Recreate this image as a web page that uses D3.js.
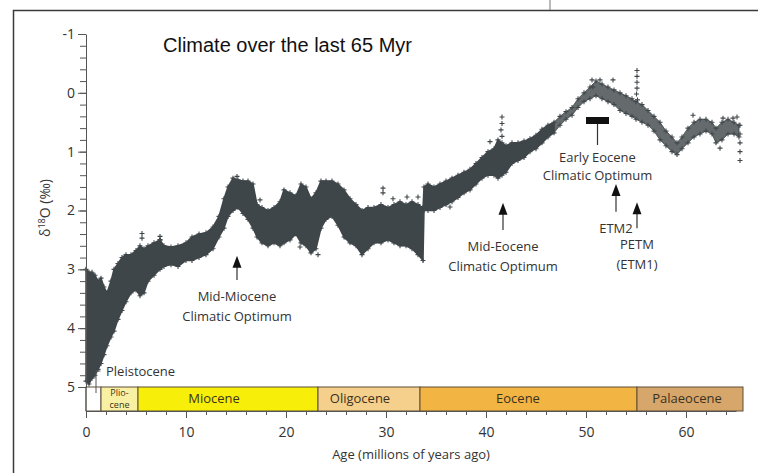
<!DOCTYPE html>
<html>
<head>
<meta charset="utf-8">
<script src="https://cdn.jsdelivr.net/npm/d3@7"></script>
<style>
  body { margin: 0; background: #fff; }
  text { fill: #333; }
</style>
</head>
<body>
<div id="chart"></div>
<script>
// envelope of the d18O cloud: age (Myr), lightest (top) and heaviest (bottom) values
const ages  = [0.0, 0.3, 0.6, 0.9, 1.2, 1.5, 1.8, 2.1, 2.5, 2.8, 3.2, 3.6, 4.0, 4.5, 5.0, 5.4, 5.8, 6.2, 6.8, 7.4,
  7.8, 8.5, 9.2, 10.0, 10.6, 11.3, 12.0, 12.7, 13.3, 13.8, 14.2, 14.7, 15.2, 15.7, 16.2, 16.7, 17.1, 17.6, 18.2, 18.8,
  19.4, 19.8, 20.4, 21.0, 21.5, 22.0, 22.5, 23.0, 23.5, 24.0, 24.6, 25.2, 25.8, 26.4, 27.0, 27.6, 28.2, 28.8, 29.5, 30.2,
  30.8, 31.4, 32.0, 32.6, 33.2, 33.7, 33.8, 34.2, 34.8, 35.4, 36.0, 36.6, 37.2, 37.8, 38.4, 39.0, 39.6, 40.2, 40.8, 41.2,
  41.6, 42.0, 42.6, 43.2, 43.8, 44.4, 45.0, 45.6, 46.2, 46.8, 47.4, 48.0, 48.6, 49.2, 49.8, 50.4, 51.0, 51.6, 52.2, 52.8,
  53.4, 54.0, 54.6, 55.0, 55.6, 56.2, 56.8, 57.4, 58.0, 58.6, 59.1, 59.6, 60.2, 60.8, 61.4, 62.0, 62.6, 63.0, 63.6, 64.2,
  64.8, 65.3];
const upper = [3.0, 3.05, 3.05, 3.1, 3.2, 3.15, 3.3, 3.4, 3.2, 3.0, 2.9, 2.8, 2.75, 2.75, 2.68, 2.6, 2.65, 2.6, 2.55, 2.5,
  2.6, 2.62, 2.6, 2.55, 2.45, 2.4, 2.38, 2.28, 2.1, 1.8, 1.6, 1.45, 1.48, 1.5, 1.5, 1.55, 1.9, 1.95, 2.0, 1.95,
  1.85, 1.65, 1.7, 1.75, 1.55, 1.6, 1.8, 1.7, 1.5, 1.5, 1.5, 1.55, 1.65, 1.8, 1.9, 2.0, 1.95, 1.95, 1.9, 1.95,
  1.9, 1.85, 1.9, 1.85, 1.9, 1.95, 1.6, 1.55, 1.6, 1.55, 1.5, 1.45, 1.4, 1.35, 1.3, 1.2, 1.1, 1.0, 0.95, 0.8,
  0.85, 0.9, 0.85, 0.85, 0.82, 0.78, 0.72, 0.62, 0.55, 0.5, 0.4, 0.32, 0.25, 0.1, 0.0, -0.1, -0.2, -0.15, -0.1, -0.05,
  0.0, 0.05, 0.1, 0.15, 0.2, 0.3, 0.4, 0.5, 0.65, 0.75, 0.85, 0.75, 0.6, 0.5, 0.45, 0.45, 0.5, 0.6, 0.5, 0.45,
  0.5, 0.55];
const lower = [4.9, 4.95, 4.85, 4.8, 4.7, 4.6, 4.45, 4.3, 4.15, 4.05, 3.85, 3.7, 3.55, 3.4, 3.35, 3.45, 3.4, 3.2, 3.1, 3.0,
  2.95, 2.92, 2.95, 2.85, 2.85, 2.8, 2.75, 2.65, 2.45, 2.3, 2.1, 2.0, 1.95, 2.05, 2.15, 2.3, 2.45, 2.55, 2.6, 2.55,
  2.6, 2.55, 2.5, 2.4, 2.55, 2.6, 2.72, 2.65, 2.3, 2.15, 2.1, 2.25, 2.45, 2.55, 2.6, 2.75, 2.65, 2.55, 2.55, 2.5,
  2.55, 2.6, 2.6, 2.65, 2.75, 2.85, 2.0, 2.0, 2.0, 1.95, 1.9, 1.85, 1.78, 1.7, 1.65, 1.55, 1.45, 1.4, 1.4, 1.45,
  1.4, 1.35, 1.2, 1.15, 1.1, 1.0, 0.95, 0.85, 0.75, 0.68, 0.55, 0.45, 0.38, 0.25, 0.15, 0.1, 0.05, 0.1, 0.15, 0.2,
  0.3, 0.35, 0.4, 0.45, 0.5, 0.55, 0.65, 0.8, 0.9, 1.0, 1.05, 0.95, 0.85, 0.75, 0.7, 0.65, 0.7, 0.85, 0.8, 0.7,
  0.7, 0.75];

// isolated points
const outAge  = [5.6, 5.6, 7.4, 7.4, 15.1, 17.4, 21.4, 23.2, 25.9, 29.7, 29.7, 30.7, 32.1, 33.2, 36.4, 40.4,
  41.6, 41.6, 41.5, 41.6, 50.6, 50.7, 51.4, 52.7, 55.1, 55.1, 55.1, 55.1, 55.05, 55.15, 60.7, 63.4, 63.7, 64.7,
  65.1, 65.4, 65.4, 65.4, 65.4, 65.4];
const outD18O = [2.39, 2.47, 2.44, 2.5, 1.42, 1.82, 2.62, 2.75, 2.45, 1.62, 1.7, 1.8, 1.77, 1.77, 1.94, 0.83,
  0.41, 0.52, 0.63, 0.74, -0.22, -0.1, -0.22, -0.22, -0.38, -0.28, -0.18, -0.08, 0.02, 0.12, 0.38, 0.94, 0.43, 0.43,
  0.41, 0.55, 0.7, 0.85, 1.0, 1.15];

// geological epochs (Myr); '|' splits a label over two lines
const epochNames = ['', 'Plio-|cene', 'Miocene', 'Oligocene', 'Eocene', 'Palaeocene'];
const epochStart = [0, 1.5, 5.2, 23.2, 33.4, 55.1];
const epochEnd   = [1.5, 5.2, 23.2, 33.4, 55.1, 65.7];
const epochLabelAt = [0.75, 3.35, 12.8, 27.4, 43.2, 60.1];
const epochColors = ['#ffffff', '#f8f1a4', '#f7ef0a', '#f5cf8c', '#f2b443', '#d6a66b'];

const yTicks = [-1, 0, 1, 2, 3, 4, 5];
const xTicks = [0, 10, 20, 30, 40, 50, 60];

// climate events: label lines, age and d18O of arrow tip / tail
const events = [
  {lines: ['Mid-Miocene', 'Climatic Optimum'], age: 15.1, tip: 2.77, tail: 3.18},
  {lines: ['Mid-Eocene', 'Climatic Optimum'], age: 41.7, tip: 1.87, tail: 2.33},
  {lines: ['ETM2'], age: 53.0, tip: 1.55, tail: 2.02},
  {lines: ['PETM', '(ETM1)'], age: 55.1, tip: 1.86, tail: 2.3},
];
const eeco = {lines: ['Early Eocene', 'Climatic Optimum'], from: 50.0, to: 52.3};
const sparseFrom = 46.8;   // record gets patchy from here on

const W = 758, H = 473;
const svg = d3.select('#chart').append('svg')
  .attr('width', W)
  .attr('height', H);

const x = d3.scaleLinear().domain([0, 65]).range([86, 736]);
const y = d3.scaleLinear().domain([-1, 5]).range([34, 387]);
const axisY = 411;
const dataColor = '#3f4649';
const labelFont = '"Open Sans", "Noto Sans", sans-serif';

// outer frame of the screenshot
svg.append('path')
  .attr('d', `M13.5,${H} V10.5 H${W}`)
  .attr('fill', 'none')
  .attr('stroke', '#3a3a3a')
  .attr('stroke-width', 1.5);
svg.append('line')
  .attr('x1', 550).attr('x2', 550).attr('y1', 0).attr('y2', 10)
  .attr('stroke', '#777').attr('stroke-width', 1);

// title
svg.append('text')
  .attr('x', 163).attr('y', 52)
  .style('font-family', '"Liberation Sans", Arial, sans-serif')
  .style('font-size', '20px')
  .style('fill', '#111')
  .text('Climate over the last 65 Myr');

// data cloud
const rows = ages.map((a, i) => ({age: a, hi: upper[i], lo: lower[i]}));
const area = d3.area()
  .x(d => x(d.age))
  .y0(d => y(d.lo))
  .y1(d => y(d.hi));
svg.append('path')
  .datum(rows.filter(d => d.age <= sparseFrom))
  .attr('d', area)
  .attr('fill', dataColor)
  .attr('stroke', dataColor)
  .attr('stroke-width', 1.5);
svg.append('path')
  .datum(rows.filter(d => d.age >= sparseFrom))
  .attr('d', area)
  .attr('fill', dataColor)
  .attr('fill-opacity', 0.8)
  .attr('stroke', dataColor)
  .attr('stroke-opacity', 0.85)
  .attr('stroke-width', 1);

const plus = 'M-2.5,0h5M0,-2.5v5';
const edgePts = rows.flatMap(d => [[d.age, d.hi], [d.age, d.lo]]);
const loosePts = outAge.map((a, i) => [a, outD18O[i]]);
svg.append('g').selectAll('path')
  .data(edgePts.concat(loosePts))
  .enter().append('path')
    .attr('transform', d => `translate(${x(d[0])},${y(d[1])})`)
    .attr('d', plus)
    .attr('stroke', dataColor)
    .attr('stroke-width', 1.1)
    .attr('fill', 'none');

// epoch bar
const epochs = epochNames.map((n, i) => ({name: n, s: epochStart[i], e: epochEnd[i], at: epochLabelAt[i], c: epochColors[i]}));
svg.append('g').selectAll('rect')
  .data(epochs)
  .enter().append('rect')
    .attr('x', d => x(d.s))
    .attr('y', y(5))
    .attr('width', d => x(d.e) - x(d.s))
    .attr('height', axisY - y(5))
    .attr('fill', d => d.c)
    .attr('stroke', '#5e4f36')
    .attr('stroke-width', 1);

const epochLines = epochs.filter(d => d.name).flatMap(d => {
  const parts = d.name.split('|');
  return parts.map((p, i) => ({text: p, at: d.at, two: parts.length > 1, i}));
});
svg.append('g').selectAll('text')
  .data(epochLines)
  .enter().append('text')
    .attr('x', d => x(d.at))
    .attr('y', d => d.two ? 395.7 + d.i * 12.3 : 403)
    .attr('text-anchor', 'middle')
    .style('font-family', labelFont)
    .style('font-size', d => d.two ? '9px' : '13px')
    .style('fill', '#3b3320')
    .text(d => d.text);

// Pleistocene bracket
svg.append('path')
  .attr('d', `M${x(1.0)},${y(5) + 6} V371 H${x(1.45)}`)
  .attr('fill', 'none')
  .attr('stroke', '#555')
  .attr('stroke-width', 1);
svg.append('text')
  .attr('x', x(2.0)).attr('y', 376)
  .style('font-family', labelFont)
  .style('font-size', '13px')
  .text('Pleistocene');

// y axis
const yAxis = svg.append('g')
  .attr('transform', `translate(${x(0)},0)`)
  .call(d3.axisLeft(y).tickValues(yTicks).tickSize(8).tickSizeOuter(0).tickPadding(3).tickFormat(d => String(d)));
svg.append('g')
  .attr('transform', `translate(${x(0)},0)`)
  .call(d3.axisLeft(y).tickValues(d3.range(-1, 5.01, 0.2)).tickSize(6).tickSizeOuter(0).tickFormat(''))
  .call(g => g.select('.domain').remove());
svg.append('line')
  .attr('x1', x(0)).attr('x2', x(0)).attr('y1', y(5)).attr('y2', axisY)
  .attr('stroke', '#555');

// x axis
const xAxis = svg.append('g')
  .attr('transform', `translate(0,${axisY})`)
  .call(d3.axisBottom(x).tickValues(xTicks).tickSize(7).tickSizeOuter(0).tickPadding(9).tickFormat(d => String(d)));
svg.append('g')
  .attr('transform', `translate(0,${axisY})`)
  .call(d3.axisBottom(x).tickValues(d3.range(2, 65, 2).filter(v => v % 10)).tickSize(4).tickFormat(''))
  .call(g => g.select('.domain').remove());

svg.selectAll('.tick line').attr('stroke', '#555');
svg.selectAll('.domain').attr('stroke', '#555');
[yAxis, xAxis].forEach(g => g.selectAll('text')
  .style('font-family', labelFont)
  .style('font-size', '14px')
  .style('fill', '#333'));

svg.append('text')
  .attr('x', 411).attr('y', 459)
  .attr('text-anchor', 'middle')
  .style('font-family', labelFont)
  .style('font-size', '13px')
  .text('Age (millions of years ago)');

const yl = svg.append('text')
  .attr('transform', 'translate(50,208) rotate(-90)')
  .attr('text-anchor', 'middle')
  .style('font-family', labelFont)
  .style('font-size', '14px');
yl.append('tspan').text('δ');
yl.append('tspan').attr('dy', -5).style('font-size', '9px').text('18');
yl.append('tspan').attr('dy', 5).text('O (‰)');

// event arrows
const ev = svg.append('g').selectAll('g')
  .data(events)
  .enter().append('g');
ev.append('line')
  .attr('x1', d => x(d.age)).attr('x2', d => x(d.age))
  .attr('y1', d => y(d.tip) + 8).attr('y2', d => y(d.tail))
  .attr('stroke', '#333').attr('stroke-width', 1.2);
ev.append('path')
  .attr('d', d => `M${x(d.age)},${y(d.tip)} l-4.5,12 h9 z`)
  .attr('fill', '#111');
ev.each(function(d) {
  d3.select(this).selectAll('text')
    .data(d.lines)
    .enter().append('text')
      .attr('x', x(d.age))
      .attr('y', (t, i) => y(d.tail) + 21 + i * 20)
      .attr('text-anchor', 'middle')
      .style('font-family', labelFont)
      .style('font-size', '13px')
      .text(t => t);
});

// Early Eocene Climatic Optimum bar
const eMid = (eeco.from + eeco.to) / 2;
svg.append('rect')
  .attr('x', x(eeco.from)).attr('y', 117)
  .attr('width', x(eeco.to) - x(eeco.from)).attr('height', 7)
  .attr('fill', '#111');
svg.append('line')
  .attr('x1', x(eMid)).attr('x2', x(eMid)).attr('y1', 124).attr('y2', 145)
  .attr('stroke', '#333').attr('stroke-width', 1.2);
svg.selectAll('.eeco')
  .data(eeco.lines)
  .enter().append('text')
    .attr('class', 'eeco')
    .attr('x', x(eMid))
    .attr('y', (t, i) => 162 + i * 18)
    .attr('text-anchor', 'middle')
    .style('font-family', labelFont)
    .style('font-size', '13px')
    .text(t => t);
</script>
</body>
</html>
